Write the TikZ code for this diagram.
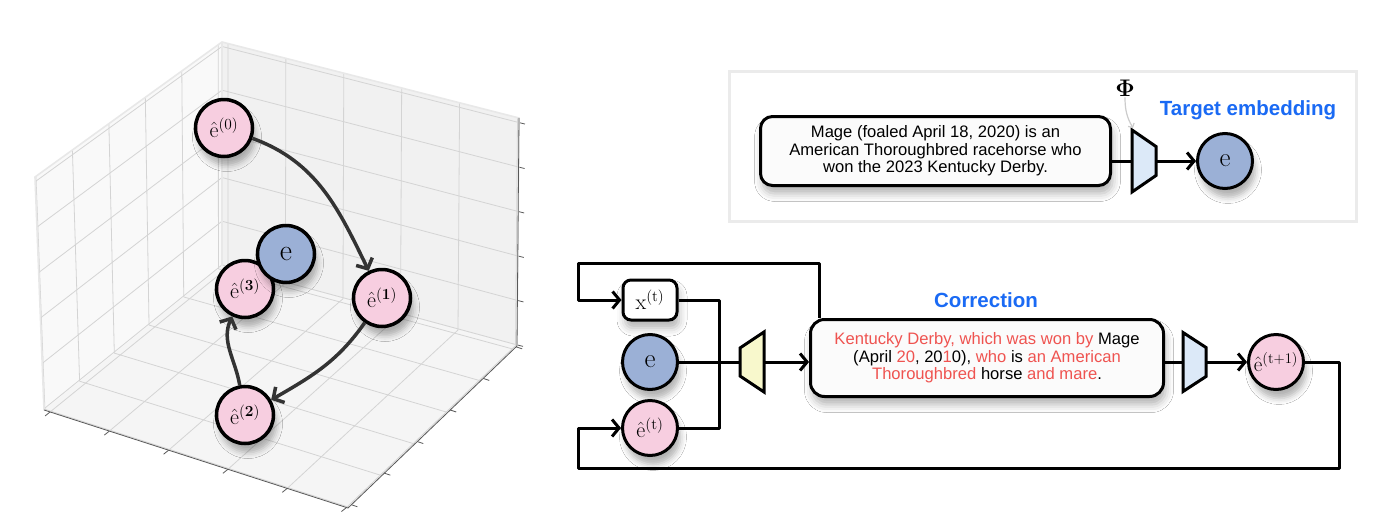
\RequirePackage{fix-cm}
\documentclass[tikz,border=0pt]{standalone}
\usepackage[no-math]{fontspec}
\newfontfamily\robo{Liberation Sans}
\usetikzlibrary{calc,arrows.meta,shadows.blur}
\definecolor{pinkfill}{HTML}{F7CEE0}
\definecolor{bluefill}{HTML}{9BB0D6}
\definecolor{corrred}{HTML}{EF5350}
\definecolor{titleblue}{HTML}{1A6AF4}
\definecolor{encblue}{HTML}{DCE9F8}
\definecolor{encyellow}{HTML}{F8F8CC}
\tikzset{
  gridline/.style={black!17, line width=0.8pt},
  paneedge/.style={black!9, line width=1.6pt},
  axisline/.style={black!65, line width=0.8pt},
  emb/.style={circle, draw=black, line width=3.5pt, minimum size=57pt, inner sep=0pt,
    font=\fontsize{22}{24}\selectfont,
    blur shadow={shadow xshift=3pt, shadow yshift=-9pt, shadow blur radius=6pt, shadow opacity=30}},
  remb/.style={emb, line width=3pt, minimum size=55pt},
  txtbox/.style={draw=black, line width=3pt, rounded corners=12pt, fill=black!1.5, align=center,
    font=\robo\fontsize{16.6}{17.5}\selectfont,
    blur shadow={shadow xshift=2pt, shadow yshift=-8pt, shadow blur radius=8pt, shadow opacity=30}},
  title/.style={text=titleblue, font=\robo\bfseries\fontsize{20.5}{23}\selectfont},
  wire/.style={line width=3pt, line join=round},
  arr/.style={-{Straight Barb[length=7pt,width=17pt]}},
  trap/.style={draw=black, line width=3pt, line join=miter},
  walk/.style={draw=black!80, line width=3.5pt, -{Straight Barb[length=8pt,width=18pt]}}
}
\begin{document}
\begin{tikzpicture}[x=1pt,y=-1pt]
  \useasboundingbox[fill=white] (0,0) rectangle (1400,517);

  % 3d axes box
  \coordinate (TB) at (222,42);
  \coordinate (TL) at (35,177);
  \coordinate (TR) at (519,118);
  \coordinate (BB) at (222,266);
  \coordinate (BL) at (44,410);
  \coordinate (BF) at (348,508);
  \coordinate (BR) at (517,346);
  \fill[black!2.5] (TB) -- (TL) -- (BL) -- (BB) -- cycle;
  \fill[black!5.5] (TB) -- (TR) -- (BR) -- (BB) -- cycle;
  \fill[black!4] (BB) -- (BL) -- (BF) -- (BR) -- cycle;
  \foreach \t in {0.02,0.215,0.41,0.605,0.8,0.995} {
    \draw[gridline] ($(TB)!\t!(TL)$) -- ($(BB)!\t!(BL)$);
    \draw[gridline] ($(TB)!\t!(BB)$) -- ($(TL)!\t!(BL)$);
    \draw[gridline] ($(TB)!\t!(TR)$) -- ($(BB)!\t!(BR)$);
    \draw[gridline] ($(TB)!\t!(BB)$) -- ($(TR)!\t!(BR)$);
    \draw[gridline] ($(BB)!\t!(BL)$) -- ($(BR)!\t!(BF)$);
    \draw[gridline] ($(BB)!\t!(BR)$) -- ($(BL)!\t!(BF)$);
    \draw[axisline] ($(BL)!\t!(BF)$) -- ++(-5,4);
    \draw[axisline] ($(BF)!\t!(BR)$) -- ++(6,2);
    \draw[axisline] ($(TR)!\t!(BR)$) -- ++(6,1.5);
  }
  \draw[paneedge] (BL) -- (TL) -- (TB) -- (TR) -- (BR);
  \draw[paneedge] (TB) -- (BB);
  \draw[axisline] (BL) -- (BF) -- (BR) -- (TR);

  % trajectory
  \node[emb, fill=pinkfill] (ehat0) at (224,128) {$\hat{\mathrm{e}}^{(0)}$};
  \node[emb, fill=pinkfill] (ehat3) at (245,289) {$\hat{\mathrm{e}}^{\mathbf{(3)}}$};
  \node[emb, fill=bluefill, font=\fontsize{30}{32}\selectfont] (eleft) at (286,254) {$\mathrm{e}$};
  \node[emb, fill=pinkfill] (ehat1) at (382,298) {$\hat{\mathrm{e}}^{\mathbf{(1)}}$};
  \node[emb, fill=pinkfill] (ehat2) at (245,415) {$\hat{\mathrm{e}}^{\mathbf{(2)}}$};
  \draw[walk] (ehat0) to[out=-20, in=116] (ehat1);
  \draw[walk] (ehat1) to[out=-125, in=30] (ehat2);
  \draw[walk] (ehat2) to[out=100, in=-115] (ehat3);

  % target embedding
  \draw[black!8, line width=3pt] (729,71) rectangle (1356,221);
  \node[txtbox, minimum width=350pt, minimum height=69pt] (mage) at (935.5,151)
    {Mage (foaled April 18, 2020) is an\\American Thoroughbred racehorse who\\won the 2023 Kentucky Derby.};
  \coordinate (phiin) at (1132,161);
  \coordinate (phiout) at (1156,161);
  \coordinate (phitop) at ($(phiin)+(0,-31)$);
  \draw[trap, fill=encblue] (phitop) -- ($(phiout)+(0,-14.5)$) -- ($(phiout)+(0,14.5)$) -- ($(phiin)+(0,31)$) -- cycle;
  \node[remb, fill=bluefill, font=\fontsize{27}{29}\selectfont] (etop) at (1225,161) {$\mathrm{e}$};
  \node[font=\fontsize{24}{26}\selectfont, inner sep=1pt] (philabel) at (1125,88) {$\mathbf{\Phi}$};
  \node[title] (tgt) at (1248,110) {Target embedding};
  \draw[wire] (mage.east |- phiin) -- (phiin);
  \draw[wire, arr] (phiout) -- (etop);
  \draw[black!20, line width=1.2pt, -{Straight Barb[length=3pt,width=7pt]}] (philabel.south) to[out=-90, in=120] ($(phitop)+(1,-2)$);

  % correction step
  \node[txtbox, rounded corners=8pt, fill=white, minimum width=54pt, minimum height=40pt, font=\fontsize{22}{24}\selectfont] (xt) at (650,300) {$\mathrm{x}^{(\mathrm{t})}$};
  \node[remb, fill=bluefill, font=\fontsize{27}{29}\selectfont] (eb) at (650,362) {$\mathrm{e}$};
  \node[remb, fill=pinkfill] (et) at (650,428) {$\hat{\mathrm{e}}^{(\mathrm{t})}$};
  \node[txtbox, rounded corners=14pt, minimum width=353pt, minimum height=77pt] (corr) at (987,358)
    {\textcolor{corrred}{Kentucky Derby, which was won by} Mage\\
     (April \textcolor{corrred}{20}, 20\textcolor{corrred}{1}0), \textcolor{corrred}{who} is \textcolor{corrred}{an American}\\
     \textcolor{corrred}{Thoroughbred} horse \textcolor{corrred}{and mare}.};
  \node[title] (corrtitle) at (986,300) {Correction};
  \node[remb, fill=pinkfill, font=\fontsize{21}{23}\selectfont] (etn) at (1276,362) {$\hat{\mathrm{e}}^{(\mathrm{t+1})}$};
  \coordinate (yelin) at (740,362);
  \coordinate (yelout) at (764,362);
  \draw[trap, fill=encyellow] ($(yelin)+(0,-14)$) -- ($(yelout)+(0,-30)$) -- ($(yelout)+(0,30)$) -- ($(yelin)+(0,14)$) -- cycle;
  \coordinate (decin) at (1183,362);
  \coordinate (decout) at (1206,362);
  \draw[trap, fill=encblue] ($(decin)+(0,-29.5)$) -- ($(decout)+(0,-14.5)$) -- ($(decout)+(0,14.5)$) -- ($(decin)+(0,29.5)$) -- cycle;
  \coordinate (junc) at (719,362);
  \draw[wire] (xt.east) -| (junc) |- (et.east);
  \draw[wire] (eb) -- (yelin);
  \draw[wire, arr] (yelout) -- (corr.west |- yelout);
  \draw[wire] (corr.east |- decin) -- (decin);
  \draw[wire, arr] (decout) -- (etn);
  \coordinate (topR) at (819,263);
  \coordinate (topL) at (578,263);
  \draw[wire, arr] (corr.north -| topR) -- (topR) -- (topL) |- (xt.west);
  \coordinate (botR) at (1339,468);
  \coordinate (botL) at (578,468);
  \draw[wire, arr] (etn.east) -| (botR) -- (botL) |- (et.west);
\end{tikzpicture}
\end{document}
